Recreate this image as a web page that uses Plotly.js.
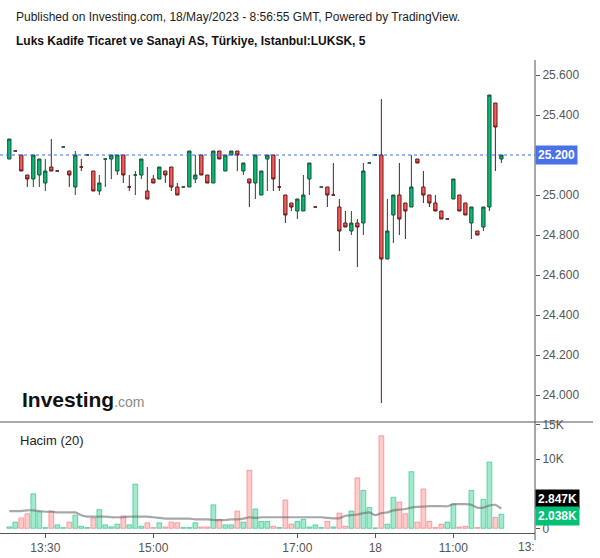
<!DOCTYPE html>
<html>
<head>
<meta charset="utf-8">
<script src="https://cdn.plot.ly/plotly-3.0.1.min.js"></script>
<style>html,body{margin:0;padding:0;background:#fff;}#chart{width:600px;height:558px;}</style>
</head>
<body>
<div id="chart"></div>
<script>
// ---- data (5-minute candles, index 1..83) ----
const openP  = [25.18,25.22,25.20,25.10,25.08,25.10,25.06,25.14,25.12,25.24,25.12,25.04,25.14,25.20,25.12,25.02,25.18,25.18,25.12,25.20,
                25.04,25.10,25.10,25.02,25.08,25.08,25.12,25.14,25.04,25.04,25.04,25.08,25.20,25.10,25.06,25.22,25.12,25.20,25.22,25.12,
                25.08,25.06,25.00,25.18,25.20,25.04,25.00,24.96,24.92,24.92,25.08,24.94,25.04,25.04,25.00,24.94,24.86,24.82,24.86,24.86,
                25.16,25.20,25.20,24.68,24.90,25.00,24.96,24.94,25.18,25.04,25.00,24.96,24.92,24.88,24.98,25.00,24.96,24.86,24.82,24.84,
                24.94,25.46,25.18];
const highP  = [25.28,25.22,25.20,25.10,25.20,25.18,25.18,25.28,25.12,25.24,25.12,25.22,25.18,25.20,25.12,25.10,25.18,25.20,25.20,25.20,
                25.10,25.12,25.18,25.14,25.10,25.14,25.12,25.14,25.06,25.04,25.22,25.20,25.20,25.10,25.22,25.22,25.20,25.22,25.22,25.16,
                25.08,25.20,25.12,25.20,25.20,25.18,25.00,24.96,24.98,25.10,25.16,24.94,25.04,25.04,25.16,24.98,24.92,24.92,24.88,25.16,
                25.16,25.20,25.48,24.98,25.00,25.16,24.96,25.20,25.18,25.12,25.00,25.00,24.92,24.88,25.08,25.00,24.96,24.94,24.82,24.94,
                25.50,25.46,25.20];
const lowP   = [25.18,25.22,25.12,25.04,25.04,25.04,25.02,25.12,25.12,25.24,25.04,25.00,25.12,25.20,25.02,25.00,25.04,25.08,25.10,25.06,
                25.02,25.00,25.08,24.98,25.06,25.08,25.06,25.02,25.00,25.04,25.04,25.06,25.10,25.06,25.06,25.18,25.12,25.20,25.12,25.10,
                24.94,24.98,25.00,25.02,25.02,25.02,24.86,24.92,24.88,24.92,25.00,24.94,25.04,24.94,25.00,24.72,24.84,24.80,24.64,24.80,
                25.16,25.20,23.96,24.68,24.76,24.80,24.78,24.94,25.16,24.96,24.94,24.92,24.88,24.88,24.98,24.92,24.90,24.78,24.80,24.82,
                24.92,25.12,25.16];
const closeP = [25.28,25.22,25.12,25.08,25.20,25.18,25.12,25.12,25.12,25.24,25.10,25.20,25.14,25.20,25.02,25.06,25.18,25.20,25.20,25.10,
                25.04,25.10,25.18,24.98,25.06,25.14,25.10,25.04,25.00,25.04,25.22,25.10,25.10,25.06,25.22,25.18,25.20,25.22,25.20,25.16,
                25.06,25.20,25.12,25.20,25.08,25.04,24.90,24.94,24.98,25.00,25.16,24.94,25.04,25.00,25.00,24.82,24.84,24.86,24.84,25.12,
                25.16,25.20,24.68,24.82,25.00,24.88,24.92,25.04,25.16,25.00,24.96,24.92,24.88,24.88,25.08,24.92,24.90,24.94,24.80,24.94,
                25.50,25.34,25.20];
const volume = [200,900,1500,2100,5000,2400,100,2500,500,100,900,1900,300,100,1500,2700,500,200,600,1800,
                500,6400,300,800,100,800,200,900,800,100,100,800,200,200,3400,1300,500,500,2500,900,
                8400,2800,1000,1000,300,100,4100,600,1000,1300,200,500,100,1000,200,2200,300,2500,7300,5500,
                3000,50,13400,600,4500,3800,2100,8200,900,5700,1000,100,600,900,3500,200,300,5500,100,4200,
                9600,1600,2038];
const volDir = "ggrrgggrggrgggrggggrgggrrgrrrgggrrgrggrgrgggrgrrgggggrgrrgrgggrggrrgrrrrrggrrgrggrg";
const volMA  = [2500,2500,2500,2600,2600,2500,2400,2400,2300,2300,2300,2300,1900,1700,1700,1700,1700,1600,1600,1600,
                1700,1700,1700,1700,1600,1500,1400,1400,1400,1400,1400,1300,1300,1300,1200,1200,1200,1300,1300,1400,
                1600,1500,1600,1600,1600,1600,1600,1600,1600,1600,1600,1600,1600,1500,1450,1450,1800,1900,2000,2200,
                2300,1900,2200,2300,2600,2700,2800,3000,3100,3150,3200,3200,3200,3200,3500,3500,3500,3400,3000,3000,
                3300,3400,2847];
const tickIdx  = [7, 25, 49, 62, 75];
const tickText = ["13:30", "15:00", "17:00", "18", "11:00"];
const priceTicks = [24.0, 24.2, 24.4, 24.6, 24.8, 25.0, 25.2, 25.4, 25.6];
const volTicks = [0, 5000, 10000, 15000];
const volTickText = ['0', '5K', '10K', '15K'];
const lastPrice = 25.2;
const lastVolMA = 2847;
const lastVol = 2038;

const idx = openP.map((_, i) => i + 1);
const GREEN = '#00c176', RED = '#ff5a5a';

const candle = {
  type: 'candlestick', x: idx, open: openP, high: highP, low: lowP, close: closeP,
  xaxis: 'x', yaxis: 'y',
  increasing: {line: {color: '#1d4c34', width: 1}, fillcolor: GREEN},
  decreasing: {line: {color: '#5c1b1b', width: 1}, fillcolor: RED},
  whiskerwidth: 0, hoverinfo: 'none', showlegend: false
};
const volBars = {
  type: 'bar', x: idx, y: volume, xaxis: 'x', yaxis: 'y2', width: 0.8,
  marker: {
    color: volDir.split('').map(d => d === 'g' ? 'rgba(0,193,118,0.36)' : 'rgba(255,90,90,0.32)'),
    line: {color: volDir.split('').map(d => d === 'g' ? 'rgba(0,193,118,0.55)' : 'rgba(255,90,90,0.5)'), width: 1}
  },
  hoverinfo: 'none', showlegend: false
};
const maLine = {
  type: 'scatter', mode: 'lines', x: idx, y: volMA, xaxis: 'x', yaxis: 'y2',
  line: {color: 'rgba(110,110,110,0.6)', width: 2.2, shape: 'spline', smoothing: 0.6},
  hoverinfo: 'none', showlegend: false
};

const W = 600, H = 558, mL = 0, mR = 65, mT = 60, mB = 25;
const plotH = H - mT - mB;            // 473
const volTopPx = 422;                 // pane separator
const volFrac = (H - mB - volTopPx) / plotH;
const py = p => (H - mB - p) / plotH; // pixel -> paper y
const px = p => (p - mL) / (W - mL - mR);
const FONT = 'Arial, "Liberation Sans", sans-serif';

const layout = {
  width: W, height: H,
  margin: {l: mL, r: mR, t: mT, b: mB, pad: 0},
  paper_bgcolor: '#fff', plot_bgcolor: '#fff',
  font: {family: FONT, size: 12, color: '#555'},
  showlegend: false,
  bargap: 0.2,
  boxgap: 0.22,
  xaxis: {
    domain: [0, 1], anchor: 'y2', range: [-0.55, 88.6],
    tickvals: tickIdx, ticktext: tickText, tickfont: {size: 12, color: '#555'},
    ticks: 'outside', ticklen: 4, tickcolor: '#555',
    showline: true, linecolor: '#555', linewidth: 1,
    showgrid: false, zeroline: false, fixedrange: true,
    rangeslider: {visible: false}
  },
  yaxis: {
    domain: [volFrac, 1], anchor: 'x', side: 'right', range: [23.865, 25.675],
    // the last-price badge covers the 25.200 tick label, as in the reference
    tickvals: priceTicks, ticktext: priceTicks.map(v => Math.abs(v - lastPrice) < 1e-9 ? '' : v.toFixed(3)),
    tickfont: {size: 12, color: '#555'}, ticks: 'outside', ticklen: 4, tickcolor: '#555',
    showline: false, showgrid: false, zeroline: false
  },
  yaxis2: {
    domain: [0, volFrac], anchor: 'x', side: 'right', range: [-680, 15400],
    // the MA badge covers the 5K tick label, as in the reference
    tickvals: volTicks, ticktext: volTickText.map(t => t === '5K' ? '' : t),
    tickfont: {size: 12, color: '#555'}, ticks: 'outside', ticklen: 4, tickcolor: '#555',
    showline: false, showgrid: false, zeroline: false
  },
  shapes: [
    {type: 'line', xref: 'paper', yref: 'y', x0: 0, x1: 1, y0: lastPrice, y1: lastPrice,
     line: {color: '#3d6ce8', width: 1, dash: 'dot'}},
    {type: 'line', xref: 'paper', yref: 'paper', x0: 0, x1: px(593), y0: py(volTopPx), y1: py(volTopPx),
     line: {color: '#555', width: 1}},
    {type: 'line', xref: 'paper', yref: 'paper', x0: 1, x1: 1, y0: py(540), y1: py(60),
     line: {color: '#555', width: 1}}
  ],
  annotations: [
    {xref: 'paper', yref: 'paper', x: px(14), y: py(17), xanchor: 'left', yanchor: 'middle', showarrow: false,
     text: 'Published on Investing.com, 18/May/2023 - 8:56:55 GMT, Powered by TradingView.',
     font: {family: FONT, size: 12, color: '#222'}},
    {xref: 'paper', yref: 'paper', x: px(14), y: py(41), xanchor: 'left', yanchor: 'middle', showarrow: false,
     text: '<b>Luks Kadife Ticaret ve Sanayi AS, Türkiye, Istanbul:LUKSK, 5</b>',
     font: {family: FONT, size: 12, color: '#111'}},
    {xref: 'paper', yref: 'paper', x: px(18), y: py(440), xanchor: 'left', yanchor: 'middle', showarrow: false,
     text: 'Hacim (20)', font: {family: FONT, size: 13, color: '#222'}},
    {xref: 'paper', yref: 'paper', x: px(20), y: py(400), xanchor: 'left', yanchor: 'middle', showarrow: false,
     text: '<b>Investing</b><span style="color:#8a8a8a;font-size:14px">.com</span>',
     font: {family: FONT, size: 21, color: '#111'}},
    {xref: 'paper', yref: 'y', x: 1, y: lastPrice, xanchor: 'left', yanchor: 'middle', showarrow: false,
     text: '<b>' + lastPrice.toFixed(3) + '</b>', bgcolor: '#4a72e8', borderpad: 2,
     font: {family: FONT, size: 12, color: '#fff'}},
    {xref: 'paper', yref: 'paper', x: 1, y: py(499), xanchor: 'left', yanchor: 'middle', showarrow: false,
     text: '<b>' + (lastVolMA / 1000).toFixed(3) + 'K</b>', bgcolor: '#000', borderpad: 2,
     font: {family: FONT, size: 12, color: '#fff'}},
    {xref: 'paper', yref: 'paper', x: 1, y: py(515.5), xanchor: 'left', yanchor: 'middle', showarrow: false,
     text: '<b>' + (lastVol / 1000).toFixed(3) + 'K</b>', bgcolor: GREEN, borderpad: 2,
     font: {family: FONT, size: 12, color: '#fff'}},
    {xref: 'paper', yref: 'paper', x: 1, y: 0, xanchor: 'right', yanchor: 'top', yshift: -5, xshift: 2, showarrow: false,
     text: '13:', font: {family: FONT, size: 12, color: '#555'}}
  ]
};

Plotly.newPlot('chart', [volBars, maLine, candle], layout, {staticPlot: true, displayModeBar: false});
</script>
</body>
</html>
